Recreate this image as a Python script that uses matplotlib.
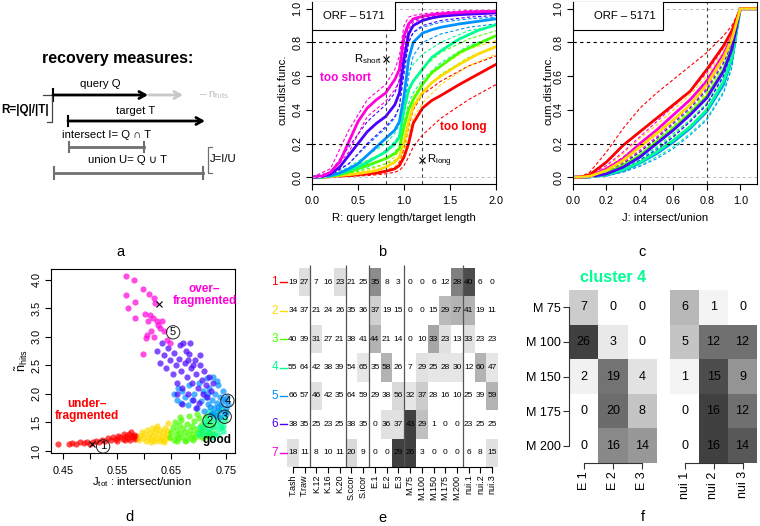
import matplotlib
matplotlib.use('Agg')
import matplotlib.pyplot as plt
import numpy as np

plt.rcParams['font.family'] = ['Liberation Sans', 'DejaVu Sans']
plt.rcParams['mathtext.fontset'] = 'custom'
plt.rcParams['mathtext.rm'] = 'Liberation Sans'
plt.rcParams['mathtext.it'] = 'Liberation Sans:italic'
plt.rcParams['mathtext.bf'] = 'Liberation Sans:bold'

W, H = 760, 526
TICK = 7.8
LAB = 8.2

# cluster colours 1..7
cols7 = ['#FF0000', '#FFDB00', '#49FF00', '#00FF92', '#0092FF', '#4900FF', '#FF00DB']

# ---------------- panel b: cdf of R ----------------
xb = [0, 0.1, 0.2, 0.3, 0.4, 0.5, 0.6, 0.7, 0.8, 0.9, 0.95, 1.0, 1.05, 1.1, 1.2, 1.3, 1.4, 1.6, 1.8, 2.0]
b_red = [0, 0, 0.003, 0.006, 0.01, 0.015, 0.02, 0.025, 0.035, 0.05, 0.07, 0.12, 0.2, 0.32, 0.41, 0.455, 0.485, 0.55, 0.61, 0.67]
b_gold = [0, 0, 0.004, 0.01, 0.015, 0.022, 0.03, 0.04, 0.06, 0.09, 0.12, 0.21, 0.33, 0.42, 0.5, 0.56, 0.6, 0.67, 0.73, 0.775]
b_green = [0, 0, 0.006, 0.015, 0.03, 0.05, 0.07, 0.09, 0.11, 0.14, 0.17, 0.3, 0.4, 0.46, 0.55, 0.62, 0.66, 0.74, 0.79, 0.84]
b_spring = [0, 0, 0.008, 0.02, 0.04, 0.06, 0.09, 0.12, 0.15, 0.2, 0.24, 0.4, 0.52, 0.57, 0.64, 0.71, 0.75, 0.82, 0.87, 0.905]
b_blue = [0, 0.002, 0.01, 0.025, 0.05, 0.08, 0.13, 0.18, 0.23, 0.28, 0.33, 0.48, 0.7, 0.8, 0.855, 0.875, 0.89, 0.91, 0.925, 0.94]
b_violet = [0, 0.003, 0.02, 0.06, 0.13, 0.2, 0.27, 0.32, 0.36, 0.43, 0.5, 0.7, 0.85, 0.9, 0.93, 0.945, 0.955, 0.965, 0.97, 0.975]
b_magenta = [0, 0.005, 0.03, 0.09, 0.21, 0.33, 0.41, 0.46, 0.5, 0.58, 0.64, 0.84, 0.91, 0.94, 0.955, 0.965, 0.97, 0.978, 0.982, 0.985]

xbd = [0, 0.2, 0.4, 0.6, 0.8, 0.9, 0.95, 1.0, 1.05, 1.1, 1.2, 1.4, 1.7, 2.0]
bd_red = [[0, 0.004, 0.01, 0.02, 0.04, 0.06, 0.09, 0.17, 0.3, 0.4, 0.49, 0.57, 0.66, 0.72],
          [0, 0.002, 0.005, 0.01, 0.02, 0.03, 0.04, 0.07, 0.12, 0.18, 0.25, 0.35, 0.46, 0.55]]
bd_gold = [[0, 0.006, 0.02, 0.04, 0.08, 0.12, 0.16, 0.28, 0.4, 0.48, 0.56, 0.66, 0.76, 0.81],
           [0, 0.002, 0.01, 0.02, 0.04, 0.06, 0.08, 0.15, 0.26, 0.35, 0.44, 0.55, 0.66, 0.73]]
bd_green = [[0, 0.01, 0.045, 0.1, 0.15, 0.19, 0.23, 0.38, 0.5, 0.57, 0.65, 0.74, 0.82, 0.87],
            [0, 0.003, 0.02, 0.05, 0.08, 0.1, 0.12, 0.22, 0.34, 0.43, 0.51, 0.61, 0.71, 0.78]]
bd_spring = [[0, 0.012, 0.06, 0.13, 0.2, 0.26, 0.31, 0.5, 0.62, 0.67, 0.73, 0.8, 0.87, 0.9],
             [0, 0.004, 0.025, 0.06, 0.11, 0.15, 0.18, 0.32, 0.44, 0.5, 0.58, 0.68, 0.78, 0.84]]
bd_blue = [[0, 0.02, 0.08, 0.19, 0.29, 0.35, 0.42, 0.62, 0.8, 0.86, 0.89, 0.92, 0.94, 0.95],
           [0, 0.005, 0.03, 0.08, 0.16, 0.21, 0.25, 0.38, 0.6, 0.72, 0.8, 0.85, 0.89, 0.91]]
bd_violet = [[0, 0.03, 0.18, 0.33, 0.43, 0.5, 0.58, 0.8, 0.9, 0.93, 0.95, 0.965, 0.975, 0.98],
             [0, 0.01, 0.08, 0.2, 0.3, 0.36, 0.42, 0.62, 0.8, 0.86, 0.9, 0.93, 0.95, 0.96]]
bd_magenta = [[0, 0.05, 0.28, 0.46, 0.55, 0.64, 0.72, 0.9, 0.95, 0.96, 0.97, 0.98, 0.99, 0.99],
              [0, 0.02, 0.15, 0.36, 0.45, 0.52, 0.57, 0.76, 0.88, 0.92, 0.94, 0.96, 0.97, 0.975]]

# ---------------- panel c: cdf of J ----------------
xc = [0, 0.05, 0.1, 0.2, 0.3, 0.4, 0.5, 0.6, 0.7, 0.8, 0.9, 0.95, 1.0, 1.1]
c_red = [0, 0.002, 0.015, 0.09, 0.19, 0.27, 0.35, 0.43, 0.51, 0.64, 0.78, 0.87, 1.0, 1.0]
c_gold = [0, 0.001, 0.006, 0.04, 0.1, 0.18, 0.26, 0.34, 0.43, 0.55, 0.71, 0.82, 1.0, 1.0]
c_green = [0, 0, 0.003, 0.025, 0.07, 0.13, 0.21, 0.29, 0.38, 0.48, 0.64, 0.77, 1.0, 1.0]
c_spring = [0, 0, 0.002, 0.015, 0.045, 0.09, 0.15, 0.22, 0.3, 0.4, 0.57, 0.71, 1.0, 1.0]
c_blue = [0, 0, 0.002, 0.012, 0.04, 0.085, 0.14, 0.21, 0.29, 0.39, 0.55, 0.7, 1.0, 1.0]
c_violet = [0, 0, 0.003, 0.02, 0.06, 0.12, 0.2, 0.28, 0.37, 0.47, 0.63, 0.76, 1.0, 1.0]
c_magenta = [0, 0.001, 0.007, 0.05, 0.11, 0.2, 0.28, 0.37, 0.46, 0.57, 0.73, 0.83, 1.0, 1.0]

cd_red = [[0, 0.005, 0.03, 0.15, 0.29, 0.41, 0.5, 0.58, 0.66, 0.74, 0.84, 0.9, 1, 1],
          [0, 0.001, 0.008, 0.05, 0.12, 0.2, 0.28, 0.37, 0.46, 0.58, 0.73, 0.84, 1, 1]]
cd_gold = [[0, 0.002, 0.01, 0.06, 0.14, 0.23, 0.31, 0.4, 0.49, 0.6, 0.75, 0.85, 1, 1],
           [0, 0, 0.004, 0.03, 0.08, 0.15, 0.22, 0.3, 0.39, 0.5, 0.67, 0.79, 1, 1]]
cd_green = [[0, 0, 0.005, 0.035, 0.085, 0.15, 0.23, 0.31, 0.4, 0.51, 0.67, 0.79, 1, 1],
            [0, 0, 0.002, 0.015, 0.05, 0.1, 0.17, 0.25, 0.34, 0.44, 0.6, 0.74, 1, 1]]
cd_spring = [[0, 0, 0.003, 0.02, 0.06, 0.11, 0.18, 0.26, 0.34, 0.44, 0.61, 0.74, 1, 1],
             [0, 0, 0.001, 0.01, 0.035, 0.07, 0.12, 0.18, 0.26, 0.35, 0.51, 0.66, 1, 1]]
cd_blue = [[0, 0, 0.003, 0.018, 0.05, 0.1, 0.17, 0.24, 0.33, 0.43, 0.6, 0.73, 1, 1],
           [0, 0, 0.001, 0.008, 0.03, 0.065, 0.11, 0.17, 0.25, 0.34, 0.5, 0.65, 1, 1]]
cd_violet = [[0, 0, 0.005, 0.03, 0.08, 0.15, 0.23, 0.32, 0.41, 0.52, 0.68, 0.79, 1, 1],
             [0, 0, 0.002, 0.015, 0.045, 0.1, 0.16, 0.24, 0.33, 0.43, 0.6, 0.73, 1, 1]]
cd_magenta = [[0, 0.002, 0.012, 0.07, 0.15, 0.24, 0.33, 0.42, 0.51, 0.62, 0.77, 0.86, 1, 1],
              [0, 0, 0.004, 0.035, 0.09, 0.16, 0.24, 0.33, 0.42, 0.53, 0.7, 0.8, 1, 1]]

# ---------------- panel d: scatter per cluster ----------------
d_x1 = [0.441, 0.461, 0.467, 0.474, 0.481, 0.488, 0.494, 0.499, 0.505, 0.511, 0.517, 0.522, 0.527, 0.533, 0.538, 0.543, 0.548,
        0.552, 0.556, 0.560, 0.563, 0.566, 0.569, 0.572, 0.574, 0.577, 0.579, 0.582, 0.585, 0.587, 0.575, 0.550, 0.565, 0.580]
d_y1 = [1.12, 1.12, 1.14, 1.13, 1.15, 1.14, 1.16, 1.13, 1.15, 1.17, 1.15, 1.20, 1.17, 1.22, 1.19, 1.25, 1.21,
        1.27, 1.24, 1.21, 1.29, 1.26, 1.23, 1.30, 1.20, 1.27, 1.24, 1.21, 1.26, 1.22, 1.33, 1.18, 1.19, 1.28]
d_x2 = [0.590, 0.592, 0.595, 0.598, 0.600, 0.603, 0.605, 0.607, 0.610, 0.612, 0.614, 0.616, 0.618, 0.620, 0.622, 0.624,
        0.626, 0.628, 0.630, 0.632, 0.634, 0.636, 0.638, 0.640, 0.642, 0.644, 0.646, 0.629, 0.613, 0.637, 0.621, 0.643]
d_y2 = [1.20, 1.27, 1.33, 1.22, 1.29, 1.18, 1.36, 1.25, 1.31, 1.21, 1.40, 1.27, 1.34, 1.18, 1.23, 1.44,
        1.30, 1.37, 1.21, 1.26, 1.33, 1.19, 1.41, 1.24, 1.29, 1.49, 1.22, 1.17, 1.15, 1.16, 1.38, 1.35]
d_x3 = [0.648, 0.650, 0.652, 0.654, 0.656, 0.658, 0.660, 0.662, 0.664, 0.666, 0.668, 0.670, 0.672, 0.674, 0.676, 0.678,
        0.680, 0.682, 0.684, 0.686, 0.688, 0.690, 0.692, 0.694, 0.696, 0.698, 0.700, 0.702, 0.704, 0.706, 0.708, 0.710,
        0.712, 0.714, 0.716, 0.718, 0.720, 0.722, 0.724, 0.726, 0.660, 0.675, 0.690, 0.665, 0.697]
d_y3 = [1.25, 1.33, 1.42, 1.20, 1.50, 1.28, 1.37, 1.22, 1.45, 1.31, 1.55, 1.24, 1.40, 1.33, 1.20, 1.48,
        1.28, 1.62, 1.36, 1.22, 1.44, 1.30, 1.52, 1.25, 1.39, 1.33, 1.58, 1.27, 1.46, 1.35, 1.23, 1.42,
        1.30, 1.62, 1.26, 1.50, 1.34, 1.28, 1.44, 1.31, 1.18, 1.17, 1.19, 1.60, 1.65]
d_x4 = [0.700, 0.703, 0.706, 0.709, 0.712, 0.714, 0.716, 0.718, 0.720, 0.722, 0.724, 0.726, 0.728, 0.730, 0.732,
        0.734, 0.736, 0.738, 0.740, 0.742, 0.744, 0.746, 0.748, 0.750, 0.735, 0.725, 0.745, 0.731, 0.719, 0.741]
d_y4 = [1.30, 1.42, 1.36, 1.50, 1.28, 1.45, 1.58, 1.38, 1.33, 1.52, 1.65, 1.42, 1.30, 1.56, 1.48,
        1.70, 1.38, 1.60, 1.50, 1.75, 1.44, 1.62, 1.55, 1.68, 1.28, 1.25, 1.35, 1.64, 1.70, 1.42]
d_x5 = [0.655, 0.660, 0.662, 0.667, 0.670, 0.675, 0.680, 0.683, 0.688, 0.692, 0.697, 0.700, 0.705, 0.708, 0.710,
        0.713, 0.716, 0.718, 0.720, 0.722, 0.724, 0.726, 0.728, 0.730, 0.732, 0.734, 0.736, 0.738, 0.740, 0.742,
        0.744, 0.746, 0.748, 0.750, 0.752, 0.754, 0.739, 0.727, 0.733, 0.745, 0.721, 0.717, 0.735, 0.751]
d_y5 = [2.00, 1.90, 2.10, 1.85, 2.05, 1.95, 1.80, 2.15, 1.90, 2.00, 1.75, 2.20, 1.88, 2.05, 1.70,
        1.95, 2.28, 1.82, 2.10, 1.65, 1.90, 2.30, 1.75, 2.00, 1.62, 1.85, 2.15, 1.70, 1.95, 1.80,
        2.05, 1.68, 1.88, 1.75, 1.95, 1.82, 1.60, 1.66, 2.22, 1.92, 1.78, 2.02, 1.78, 1.65]
d_x6 = [0.623, 0.628, 0.632, 0.636, 0.640, 0.644, 0.648, 0.652, 0.655, 0.658, 0.661, 0.664, 0.667, 0.670, 0.672,
        0.675, 0.678, 0.680, 0.683, 0.686, 0.688, 0.690, 0.693, 0.696, 0.698, 0.700, 0.703, 0.706, 0.708, 0.710,
        0.713, 0.716, 0.720, 0.723, 0.726, 0.665, 0.685, 0.660, 0.670, 0.695, 0.677, 0.702, 0.690, 0.680]
d_y6 = [2.75, 2.55, 2.90, 2.68, 2.45, 2.80, 2.60, 2.35, 2.72, 2.50, 2.20, 2.62, 2.40, 2.10, 2.90,
        2.55, 2.30, 2.00, 2.70, 2.45, 2.20, 1.90, 2.60, 2.35, 2.10, 1.85, 2.50, 2.25, 2.00, 2.40,
        2.15, 1.95, 2.30, 2.05, 2.20, 2.85, 2.90, 2.00, 1.82, 1.75, 2.75, 2.68, 2.50, 2.60]
d_x7 = [0.567, 0.580, 0.567, 0.582, 0.570, 0.583, 0.598, 0.609, 0.618, 0.620, 0.601, 0.611, 0.616, 0.623, 0.633,
        0.606, 0.605, 0.618, 0.603, 0.629, 0.637, 0.641, 0.597, 0.647, 0.612, 0.625]
d_y7 = [4.07, 3.99, 3.74, 3.61, 3.51, 3.33, 3.84, 3.75, 3.68, 3.59, 3.40, 3.39, 3.33, 3.28, 3.27,
        3.27, 3.03, 3.00, 2.98, 3.15, 3.11, 2.95, 2.70, 2.89, 3.10, 3.20]

# ---------------- panel e: table of counts ----------------
e_cols = ['T.ash', 'T.raw', 'K.12', 'K.16', 'K.20', 'S.ccor', 'S.icor', 'E.1', 'E.2', 'E.3',
          'M.75', 'M.100', 'M.150', 'M.175', 'M.200', 'nui.1', 'nui.2', 'nui.3']
e_vals = [[19, 27, 7, 16, 23, 21, 25, 35, 8, 3, 0, 0, 6, 12, 28, 40, 6, 0],
          [34, 37, 21, 24, 26, 35, 36, 37, 19, 15, 0, 0, 15, 29, 27, 41, 19, 11],
          [40, 39, 31, 27, 21, 38, 41, 44, 21, 14, 0, 10, 33, 23, 13, 33, 23, 23],
          [55, 64, 42, 38, 39, 54, 65, 35, 58, 26, 7, 29, 25, 28, 30, 12, 60, 47],
          [66, 57, 46, 42, 35, 64, 59, 29, 38, 56, 32, 37, 28, 16, 10, 25, 39, 59],
          [38, 35, 25, 23, 25, 38, 35, 0, 36, 37, 43, 29, 1, 0, 0, 23, 25, 25],
          [18, 11, 8, 10, 11, 20, 9, 0, 0, 29, 26, 3, 0, 0, 0, 6, 8, 15]]
e_shade = [[0, .13, 0, 0, .13, 0, 0, .45, 0, 0, 0, 0, 0, 0, .5, .7, 0, 0],
           [0, 0, 0, 0, 0, 0, 0, .18, 0, 0, 0, 0, 0, .27, .3, .3, 0, 0],
           [0, 0, .12, 0, 0, 0, 0, .3, 0, 0, 0, 0, .35, .12, 0, .12, 0, 0],
           [0, 0, 0, 0, 0, 0, .1, 0, .3, 0, 0, .12, .1, .1, .1, 0, .3, .1],
           [0, 0, .12, 0, 0, 0, 0, 0, 0, .15, .1, .2, 0, 0, 0, 0, 0, .3],
           [0, 0, 0, 0, 0, 0, 0, 0, .12, .12, .75, .25, 0, 0, 0, 0, 0, 0],
           [.12, 0, 0, 0, 0, .15, 0, 0, 0, .75, .75, 0, 0, 0, 0, 0, 0, .12]]
e_groups = [2, 5, 7, 10, 15]

# ---------------- panel f: cluster 4 detail ----------------
f_rows = ['M 75', 'M 100', 'M 150', 'M 175', 'M 200']
f_cols_e = ['E 1', 'E 2', 'E 3']
f_cols_n = ['nui 1', 'nui 2', 'nui 3']
f_vals_e = [[7, 0, 0], [26, 3, 0], [2, 19, 4], [0, 20, 8], [0, 16, 14]]
f_vals_n = [[6, 1, 0], [5, 12, 12], [1, 15, 9], [0, 16, 12], [0, 16, 14]]


def box(l, t, r, b):
    return [l / W, 1 - b / H, (r - l) / W, (b - t) / H]


def r_style(ax):
    ax.tick_params(direction='out', length=4, width=0.8, labelsize=TICK)
    ax.tick_params(axis='x', pad=5)
    ax.tick_params(axis='y', pad=3, labelrotation=90)
    for lab in ax.get_yticklabels():
        lab.set_va('center')
    for s in ax.spines.values():
        s.set_linewidth(0.8)


fig = plt.figure(figsize=(W / 100, H / 100), dpi=100)


def ftext(px, py, s, **kw):
    fig.text(px / W, 1 - py / H, s, **kw)


def cdf_panel(ax, xs, solids, xd, dashed, order, xmax, xticks):
    for c, pair in zip(cols7, dashed):
        for ys in pair:
            ax.plot(xd, ys, color=c, lw=0.8, ls=(0, (3, 2)))
    for i in order:
        ax.plot(xs, solids[i], color=cols7[i], lw=2.0, solid_capstyle='round')
    ax.axhline(0.8, color='k', lw=0.8, ls=(0, (3, 3)))
    ax.axhline(0.2, color='k', lw=0.8, ls=(0, (3, 3)))
    ax.axhline(0.0, color='#bbbbbb', lw=0.7, ls=(0, (3, 3)))
    ax.axhline(1.0, color='#bbbbbb', lw=0.7, ls=(0, (3, 3)))
    ax.set_xlim(0, xmax)
    ax.set_ylim(-0.04, 1.04)
    ax.set_xticks(xticks)
    ax.set_xticklabels(['%.1f' % v for v in xticks])
    ax.set_yticks([0, 0.2, 0.4, 0.6, 0.8, 1.0])
    ax.set_yticklabels(['0.0', '0.2', '0.4', '0.6', '0.8', '1.0'])
    r_style(ax)


# panel b
ax_b = fig.add_axes(box(312, 2, 496, 184))
cdf_panel(ax_b, xb, [b_red, b_gold, b_green, b_spring, b_blue, b_violet, b_magenta], xbd,
          [bd_red, bd_gold, bd_green, bd_spring, bd_blue, bd_violet, bd_magenta],
          [0, 1, 2, 3, 4, 5, 6], 2.0, [0, 0.5, 1.0, 1.5, 2.0])
ax_b.axvline(0.8, color='#444444', lw=0.8, ls=(0, (3, 3)))
ax_b.axvline(1.2, color='#444444', lw=0.8, ls=(0, (3, 3)))
ax_b.add_patch(plt.Rectangle((0, 0.876), 0.9, 0.2, facecolor='white', edgecolor='k', lw=0.8, zorder=5))
ax_b.text(0.45, 0.958, 'ORF – 5171', ha='center', va='center', fontsize=8.2, zorder=6)
ax_b.plot([0.8], [0.7], marker='x', color='k', ms=4, mew=0.8)
ax_b.text(0.76, 0.7, r'R$_{\mathrm{short}}$', ha='right', va='center', fontsize=8.2)
ax_b.plot([1.2], [0.1], marker='x', color='k', ms=4, mew=0.8)
ax_b.text(1.25, 0.1, r'R$_{\mathrm{long}}$', ha='left', va='center', fontsize=8.2)
ax_b.text(0.36, 0.59, 'too short', color=cols7[6], fontweight='bold', ha='center', va='center', fontsize=8.5)
ax_b.text(1.65, 0.30, 'too long', color=cols7[0], fontweight='bold', ha='center', va='center', fontsize=8.5)

# panel c
ax_c = fig.add_axes(box(573, 2, 757, 184))
cdf_panel(ax_c, xc, [c_red, c_gold, c_green, c_spring, c_blue, c_violet, c_magenta], xc,
          [cd_red, cd_gold, cd_green, cd_spring, cd_blue, cd_violet, cd_magenta],
          [4, 3, 2, 5, 6, 0, 1], 1.1, [0, 0.2, 0.4, 0.6, 0.8, 1.0])
ax_c.axvline(0.8, color='#444444', lw=0.8, ls=(0, (3, 3)))
ax_c.add_patch(plt.Rectangle((0, 0.876), 0.54, 0.2, facecolor='white', edgecolor='k', lw=0.8, zorder=5))
ax_c.text(0.31, 0.958, 'ORF – 5171', ha='center', va='center', fontsize=8.2, zorder=6)

# panel d
ax_d = fig.add_axes(box(51, 269, 235, 453))
for c, xs, ys in zip(cols7, [d_x1, d_x2, d_x3, d_x4, d_x5, d_x6, d_x7], [d_y1, d_y2, d_y3, d_y4, d_y5, d_y6, d_y7]):
    ax_d.scatter(xs, ys, s=20, color=c, alpha=0.7, linewidths=0)
ax_d.set_xlim(0.428, 0.767)
ax_d.set_ylim(0.965, 4.19)
ax_d.set_xticks([0.45, 0.5, 0.55, 0.6, 0.65, 0.7, 0.75])
ax_d.set_xticklabels(['0.45', '', '0.55', '', '0.65', '', '0.75'])
ax_d.set_yticks([1.0, 1.5, 2.0, 2.5, 3.0, 3.5, 4.0])
ax_d.set_yticklabels(['1.0', '1.5', '2.0', '2.5', '3.0', '3.5', '4.0'])
r_style(ax_d)
for lab, (x, y) in zip(['1', '2', '3', '4', '5'],
                       [(0.524, 1.08), (0.72, 1.53), (0.748, 1.60), (0.753, 1.88), (0.653, 3.08)]):
    ax_d.text(x, y, lab, ha='center', va='center', fontsize=8,
              bbox=dict(boxstyle='circle,pad=0.15', fc='none', ec='#222222', lw=0.7))
ax_d.plot([0.503, 0.627], [1.12, 3.58], 'x', color='k', ms=4, mew=0.8)
ax_d.text(0.711, 3.74, 'over–\nfragmented', color=cols7[6], fontweight='bold', ha='center', va='center',
          fontsize=8.5, linespacing=1.0)
ax_d.text(0.494, 1.725, 'under–\nfragmented', color=cols7[0], fontweight='bold', ha='center', va='center',
          fontsize=8.5, linespacing=1.0)
ax_d.text(0.733, 1.19, 'good', color='k', fontweight='bold', ha='center', va='center', fontsize=8.5)

# panel e
ax_e = fig.add_axes(box(287, 268, 498, 467))
shade = 1 - np.array(e_shade)
ax_e.pcolormesh(np.arange(19), np.arange(8), shade, cmap='gray', vmin=0, vmax=1)
ax_e.set_xlim(0, 18)
ax_e.set_ylim(7, 0)
for i, row in enumerate(e_vals):
    for j, v in enumerate(row):
        ax_e.text(j + 0.5, i + 0.5, str(v), ha='center', va='center', fontsize=6.0)
    ax_e.text(-1.05, i + 0.5, str(i + 1), color=cols7[i], ha='center', va='center', fontsize=8.5)
    ax_e.plot([-0.62, 0], [i + 0.5, i + 0.5], color=cols7[i], lw=1.0, clip_on=False)
ax_e.vlines(e_groups, -0.1, 7, colors='#555555', lw=0.9, clip_on=False)
for s in ['top', 'right', 'left']:
    ax_e.spines[s].set_visible(False)
ax_e.spines['bottom'].set_bounds(0.5, 17.5)
ax_e.spines['bottom'].set_linewidth(0.8)
ax_e.set_yticks([])
ax_e.set_xticks(np.arange(18) + 0.5)
ax_e.set_xticklabels(e_cols, rotation=90, fontsize=6.5)
ax_e.tick_params(axis='x', direction='out', length=4, width=0.8, pad=1.5)


# panel f
def f_matrix(ax, vals, cols, show_rows):
    arr = np.array(vals, dtype=float)
    grey = 1 - 0.75 * arr / arr.max()
    ax.pcolormesh(np.arange(4), np.arange(6), grey, cmap='gray', vmin=0, vmax=1)
    ax.set_xlim(0, 3)
    ax.set_ylim(5, 0)
    for i, row in enumerate(vals):
        for j, v in enumerate(row):
            ax.text(j + 0.5, i + 0.5, str(v), ha='center', va='center', fontsize=9)
    for s in ['top', 'right']:
        ax.spines[s].set_visible(False)
    ax.spines['bottom'].set_bounds(0.5, 2.5)
    ax.set_xticks([0.5, 1.5, 2.5])
    ax.set_xticklabels(cols, rotation=90, fontsize=9)
    if show_rows:
        ax.spines['left'].set_bounds(0.5, 4.5)
        ax.set_yticks([0.5, 1.5, 2.5, 3.5, 4.5])
        ax.set_yticklabels(f_rows, fontsize=9)
    else:
        ax.spines['left'].set_visible(False)
        ax.set_yticks([])
    for s in ax.spines.values():
        s.set_linewidth(0.8)
        s.set_color('#333333')
    ax.tick_params(direction='out', length=4, width=0.8, pad=2, color='#333333')


ax_f1 = fig.add_axes(box(569, 290, 657, 463))
f_matrix(ax_f1, f_vals_e, f_cols_e, True)
ax_f2 = fig.add_axes(box(670, 290, 757, 463))
f_matrix(ax_f2, f_vals_n, f_cols_n, False)
ftext(613, 277, 'cluster 4', color=cols7[3], fontweight='bold', fontsize=11.5, ha='center', va='center')

# axis labels
ftext(404, 218, 'R: query length/target length', fontsize=LAB, ha='center', va='center')
ftext(282, 90, 'cum.dist.func.', fontsize=LAB, ha='center', va='center', rotation=90)
ftext(665, 218, 'J: intersect/union', fontsize=LAB, ha='center', va='center')
ftext(548, 90, 'cum.dist.func.', fontsize=LAB, ha='center', va='center', rotation=90)
ftext(142, 482, r'J$_{\mathrm{tot}}$ : intersect/union', fontsize=LAB, ha='center', va='center')
ftext(22, 361, r'$\tilde{\mathrm{n}}_{\mathrm{hits}}$', fontsize=LAB + 1, ha='center', va='center', rotation=90)

# panel letters
for lab, (px, py) in zip('abcdef', [(120, 252), (382, 252), (642, 252), (130, 517), (382, 518), (643, 517)]):
    ftext(px, py, lab, fontsize=10.5, ha='center', va='center')

# panel a: schematic drawn in pixel coordinates
ov = fig.add_axes([0, 0, 1, 1], facecolor='none')
ov.set_xlim(0, W)
ov.set_ylim(H, 0)
ov.axis('off')
ov.text(118, 58, 'recovery measures:', fontsize=11.5, fontweight='bold', ha='center', va='center')
arrow = dict(arrowstyle='->,head_length=0.45,head_width=0.25', lw=2, shrinkA=0, shrinkB=0)
ov.annotate('', xy=(148, 95), xytext=(53, 95), arrowprops=dict(arrow, color='black'))
ov.annotate('', xy=(183, 95), xytext=(149, 95), arrowprops=dict(arrow, color='#c8c8c8'))
ov.plot([53, 53], [89, 101], color='black', lw=1.5)
ov.text(100, 84, 'query Q', fontsize=8.2, ha='center', va='center')
ov.text(199, 95, r'– n$_{\mathrm{hits}}$', fontsize=8.2, color='#bbbbbb', ha='left', va='center')
ov.plot([43, 52, 52, 47], [95, 95, 122, 122], color='#444444', lw=0.9)
ov.text(25, 110, 'R=|Q|/|T|', fontsize=8.4, fontweight='bold', ha='center', va='center')
ov.text(136, 111, 'target T', fontsize=8.2, ha='center', va='center')
ov.annotate('', xy=(205, 121), xytext=(68, 121), arrowprops=dict(arrow, color='black'))
ov.plot([68, 68], [116, 126], color='black', lw=1.5)
ov.text(107, 135, 'intersect I= Q ∩ T', fontsize=8.2, ha='center', va='center')
ov.plot([69, 144], [147, 147], color='#707070', lw=2)
ov.plot([69, 69], [142, 152], color='#707070', lw=1.5)
ov.plot([144, 144], [142, 152], color='#707070', lw=1.5)
ov.text(128, 160, 'union U= Q ∪ T', fontsize=8.2, ha='center', va='center')
ov.plot([54, 203], [173, 173], color='#707070', lw=2)
ov.plot([54, 54], [167, 179], color='#707070', lw=1.5)
ov.plot([203, 203], [167, 179], color='#707070', lw=1.5)
ov.plot([212, 208, 208, 212], [147, 147, 173, 173], color='#707070', lw=0.9)
ov.text(210, 159, 'J=I/U', fontsize=8.2, ha='left', va='center')

fig.savefig('out.png', dpi=100)
